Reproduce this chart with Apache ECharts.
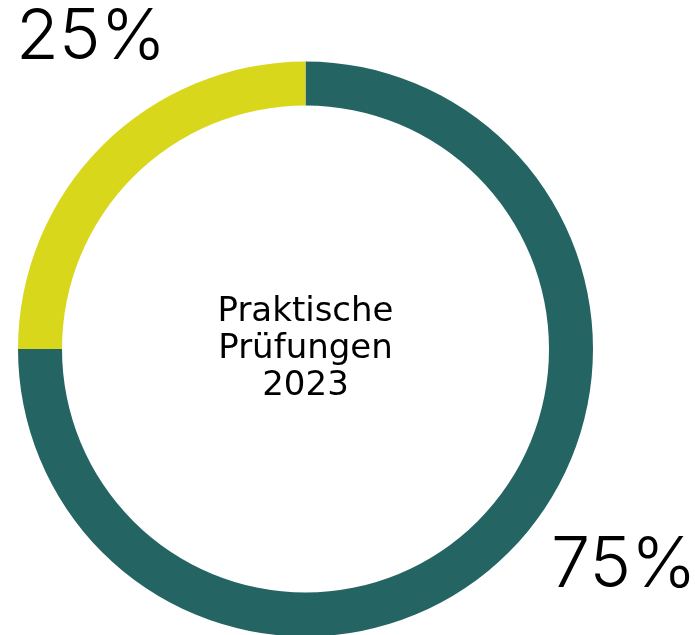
<!DOCTYPE html>
<html><head><meta charset="utf-8">
<script src="https://cdn.jsdelivr.net/npm/echarts@6/dist/echarts.min.js"></script>
<style>html,body{margin:0;padding:0;background:#fff}#c{width:695px;height:635px}</style>
</head><body><div id="c"></div>
<script>
const categories = ['Bestanden', 'Nicht bestanden'];
const values = [75, 25];
const colors = ['#246564', '#d9d71c'];
const centerTitle = ['Praktische', 'Prüfungen', '2023'];

const chart = echarts.init(document.getElementById('c'), null, {renderer: 'canvas'});
chart.setOption({
  animation: false,
  series: [{
    type: 'pie',
    center: [305.5, 349],
    radius: [243.5, 287.5],
    startAngle: 90,
    clockwise: true,
    silent: true,
    label: {show: false},
    labelLine: {show: false},
    data: categories.map((n, i) => ({name: n, value: values[i], itemStyle: {color: colors[i]}}))
  }],
  graphic: [
    {type: 'text', left: 16, top: 3, style: {text: values[1] + '%', fontFamily: 'Inter', fontWeight: 300, fontSize: 70, fill: '#000'}},
    {type: 'text', left: 551, top: 531, style: {text: values[0] + '%', fontFamily: 'Inter', fontWeight: 300, fontSize: 70, fill: '#000'}},
    {type: 'text', x: 305.5, y: 349, style: {text: centerTitle.join('\n'), fontFamily: 'DejaVu Sans', fontSize: 34, fill: '#000', align: 'center', verticalAlign: 'middle', lineHeight: 37}}
  ]
});
</script></body></html>
